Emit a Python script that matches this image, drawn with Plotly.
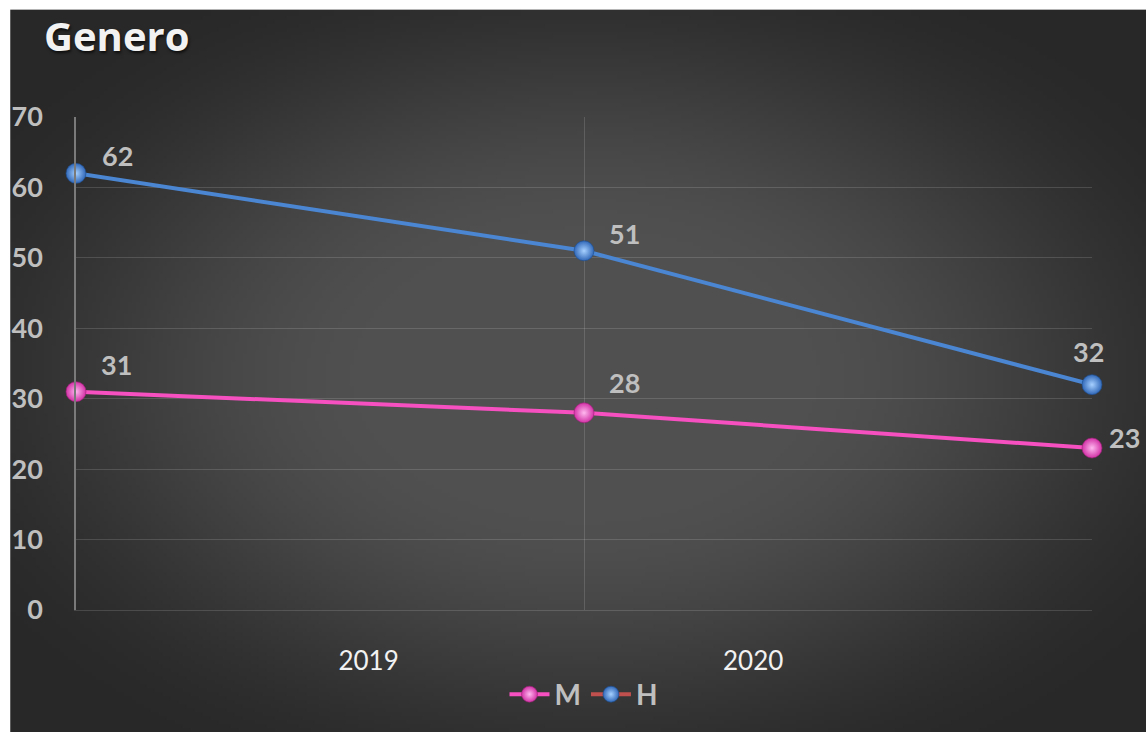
import base64
import struct
import zlib

import numpy as np
import plotly.graph_objects as go

# ---------------- data ----------------
POINT_IDX = [0, 1, 2]
SERIES_M = [31, 28, 23]
SERIES_H = [62, 51, 32]
SERIES_NAMES = ["M", "H"]
YEAR_LABELS = ["2019", "2020"]
TITLE = "Genero"

# ---------------- layout constants ----------------
W, H = 1146, 732
L, R, T, B = 72, 1146 - 1092, 117, 732 - 613
PW, PH = W - L - R, H - T - B
YEAR_TICK_POS = [0.576, 1.333]  # where Excel drew the category labels
LBL_SHIFT_M = [(40, 27), (40, 30), (32, 11)]
LBL_SHIFT_H = [(41, 18), (40, 17), (-4, 33)]


def px_x(px):
    return (px - L) / PW


def px_y(py):
    return (H - B - py) / PH


def png_uri(arr):
    h, w, _ = arr.shape
    raw = b"".join(b"\x00" + arr[i].tobytes() for i in range(h))

    def chunk(tag, data):
        return (struct.pack(">I", len(data)) + tag + data
                + struct.pack(">I", zlib.crc32(tag + data) & 0xFFFFFFFF))

    png = (b"\x89PNG\r\n\x1a\n"
           + chunk(b"IHDR", struct.pack(">IIBBBBB", w, h, 8, 2, 0, 0, 0))
           + chunk(b"IDAT", zlib.compress(raw, 9))
           + chunk(b"IEND", b""))
    return "data:image/png;base64," + base64.b64encode(png).decode()


# radial gradient background image
BX0, BY0, BX1, BY1 = 6, 9, 1160, 745
gw, gh = 289, 184
yy, xx = np.mgrid[0:gh, 0:gw]
dx = (xx + 0.5) / gw * 2 - 1
dy = (yy + 0.5) / gh * 2 - 1
d = np.sqrt(dx ** 2 + dy ** 2)
t = np.clip((d - 0.35) / 0.9, 0, 1)
f = t * t * (3 - 2 * t)
c = 80 - (80 - 40) * f
img = np.stack([c, c, c], axis=-1).round().astype(np.uint8)
bg_uri = png_uri(img)

fig = go.Figure()

GRID = "rgba(255,255,255,0.14)"
LABEL_COL = "#bfbfbf"

PINK_MARKER = dict(size=20, color="#d232a6",
                   gradient=dict(type="radial", color="#ffb8ef"),
                   line=dict(color="#a0207a", width=0.6))
BLUE_MARKER = dict(size=20, color="#3168b8",
                   gradient=dict(type="radial", color="#a6d0ff"),
                   line=dict(color="#1f4f90", width=0.6))

fig.add_trace(go.Scatter(
    x=POINT_IDX, y=SERIES_M, name=f"<b>{SERIES_NAMES[0]}</b>", mode="lines+markers",
    line=dict(color="#f64fc0", width=4), marker=PINK_MARKER,
    cliponaxis=False, hoverinfo="skip",
))
fig.add_trace(go.Scatter(
    x=POINT_IDX, y=SERIES_H, name=f"<b>{SERIES_NAMES[1]}</b>", mode="lines+markers",
    line=dict(color="#4a86d2", width=4), marker=BLUE_MARKER,
    cliponaxis=False, hoverinfo="skip", showlegend=False,
))
# legend entry for H (Excel shows a red line with a blue marker)
fig.add_trace(go.Scatter(
    x=[None], y=[None], name=f"<b>{SERIES_NAMES[1]}</b>", mode="lines+markers",
    line=dict(color="#c0504d", width=4), marker=BLUE_MARKER,
))

annotations = []
for xs, ys, shifts in ((POINT_IDX, SERIES_M, LBL_SHIFT_M), (POINT_IDX, SERIES_H, LBL_SHIFT_H)):
    for xv, yv, (sx, sy) in zip(xs, ys, shifts):
        annotations.append(dict(
            x=xv, y=yv, xref="x", yref="y", text=f"<b>{yv}</b>", showarrow=False,
            xanchor="center", yanchor="middle", xshift=sx, yshift=sy,
            font=dict(family="Lato", size=27, color=LABEL_COL)))

annotations.append(dict(
    x=px_x(38), y=px_y(35), xref="paper", yref="paper", text=f"<b>{TITLE}</b>",
    showarrow=False, xanchor="left", yanchor="middle",
    font=dict(family="Open Sans", size=40, color="#f2f2f2",
              shadow="1px 2px 3px rgba(0,0,0,0.7)")))

fig.update_layout(
    width=W, height=H,
    margin=dict(l=L, r=R, t=T, b=B, pad=0),
    paper_bgcolor="white",
    plot_bgcolor="rgba(0,0,0,0)",
    images=[dict(source=bg_uri, xref="paper", yref="paper",
                 x=px_x(BX0), y=px_y(BY0),
                 sizex=(BX1 - BX0) / PW, sizey=(BY1 - BY0) / PH,
                 xanchor="left", yanchor="top", sizing="stretch", layer="below")],
    annotations=annotations,
    showlegend=True,
    legend=dict(orientation="h", x=0.5, xanchor="center", y=px_y(698), yanchor="middle",
                bgcolor="rgba(0,0,0,0)",
                font=dict(family="Lato", size=28, color=LABEL_COL),
                itemwidth=40, traceorder="normal"),
    xaxis=dict(range=[0, 2], tickmode="array", tickvals=YEAR_TICK_POS, ticktext=YEAR_LABELS,
               showgrid=False, zeroline=False, showline=True, linecolor=GRID, linewidth=1,
               ticks="", ticklabelstandoff=28,
               tickfont=dict(family="Lato", size=26, color="#f2f2f2"),
               minor=dict(tickmode="array", tickvals=[1, 2], showgrid=True,
                          gridcolor=GRID, gridwidth=1, ticks="")),
    yaxis=dict(range=[0, 70], dtick=10, showgrid=True, gridcolor=GRID, gridwidth=1,
               zeroline=False, showline=True, linecolor="#7a7a7a", linewidth=1.5,
               ticks="", ticklabelstandoff=26,
               tickfont=dict(family="Lato", size=27, color=LABEL_COL, weight="bold")),
    hovermode=False,
)

fig.write_html("out.html", config={"displayModeBar": False},
               post_script="document.body.style.margin='0';document.body.style.overflow='hidden';")
